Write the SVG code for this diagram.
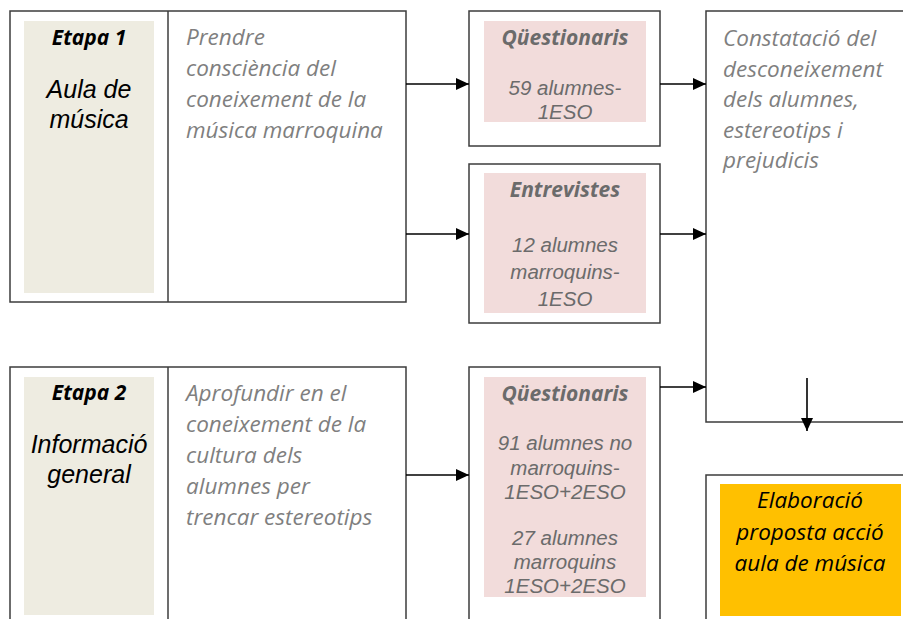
<svg xmlns="http://www.w3.org/2000/svg" width="903" height="619" viewBox="0 0 903 619">
<style>
.box{fill:#fff;stroke:#3c3c3c;stroke-width:1.5}
.beige{fill:#EEECE1}
.pink{fill:#F2DCDB}
.orange{fill:#FFC000}
.line{fill:none;stroke:#000;stroke-width:1.6}
.cal{font-family:"Open Sans","Noto Sans",sans-serif;font-style:italic}
.ari{font-family:"Liberation Sans",Arial,sans-serif;font-style:italic}
.grey{fill:#7F7F7F}
.dgrey{fill:#6b6b6b}
.stage{font-weight:bold;font-size:21px;fill:#000}
.title{font-size:25px;fill:#000}
.desc{font-size:22.5px}
.head{font-weight:bold;font-size:21px}
.body{font-size:20.5px}
</style>
<defs>
<marker id="ah" markerWidth="13" markerHeight="12" refX="13" refY="6" orient="auto" markerUnits="userSpaceOnUse">
<path d="M0,0 L13,6 L0,12 Z" fill="#000"/>
</marker>
</defs>
<rect width="903" height="619" fill="#fff"/>

<g id="etapa1">
<rect class="box" x="10" y="11" width="396" height="291"/>
<line x1="168" y1="11" x2="168" y2="302" stroke="#3c3c3c" stroke-width="1.5"/>
<rect class="beige" x="24" y="21" width="130" height="272"/>
<text class="cal stage" x="89" y="45" text-anchor="middle">Etapa 1</text>
<text class="ari title" x="89" y="98" text-anchor="middle">Aula de</text>
<text class="ari title" x="89" y="128" text-anchor="middle">música</text>
<g class="cal desc grey">
<text x="186" y="45">Prendre</text>
<text x="186" y="76">consciència del</text>
<text x="186" y="107">coneixement de la</text>
<text x="186" y="138">música marroquina</text>
</g>
</g>

<g id="questionaris1">
<rect class="box" x="469" y="11" width="191" height="135"/>
<rect class="pink" x="484" y="21" width="162" height="101"/>
<text class="cal head dgrey" x="565" y="45" text-anchor="middle">Qüestionaris</text>
<text class="ari body dgrey" x="565" y="95" text-anchor="middle">59 alumnes-</text>
<text class="ari body dgrey" x="565" y="119" text-anchor="middle">1ESO</text>
</g>

<g id="entrevistes">
<rect class="box" x="469" y="164" width="191" height="159"/>
<rect class="pink" x="484" y="173" width="162" height="140"/>
<text class="cal head dgrey" x="565" y="197" text-anchor="middle">Entrevistes</text>
<text class="ari body dgrey" x="565" y="252" text-anchor="middle">12 alumnes</text>
<text class="ari body dgrey" x="565" y="279" text-anchor="middle">marroquins-</text>
<text class="ari body dgrey" x="565" y="306" text-anchor="middle">1ESO</text>
</g>

<g id="constatacio">
<path class="box" d="M910,11 H706 V422 H910"/>
<g class="cal desc grey">
<text x="723" y="46">Constatació del</text>
<text x="723" y="77">desconeixement</text>
<text x="723" y="107">dels alumnes,</text>
<text x="723" y="138">estereotips i</text>
<text x="723" y="168">prejudicis</text>
</g>
</g>

<g id="etapa2">
<path class="box" d="M10,630 V367 H406 V630"/>
<line x1="168" y1="367" x2="168" y2="630" stroke="#3c3c3c" stroke-width="1.5"/>
<rect class="beige" x="24" y="377" width="130" height="238"/>
<text class="cal stage" x="89" y="400" text-anchor="middle">Etapa 2</text>
<text class="ari title" x="89" y="453" text-anchor="middle">Informació</text>
<text class="ari title" x="89" y="483" text-anchor="middle">general</text>
<g class="cal desc grey">
<text x="186" y="401">Aprofundir en el</text>
<text x="186" y="432">coneixement de la</text>
<text x="186" y="463">cultura dels</text>
<text x="186" y="494">alumnes per</text>
<text x="186" y="525">trencar estereotips</text>
</g>
</g>

<g id="questionaris2">
<path class="box" d="M469,630 V367 H660 V630"/>
<rect class="pink" x="484" y="377" width="162" height="220"/>
<text class="cal head dgrey" x="565" y="401" text-anchor="middle">Qüestionaris</text>
<text class="ari body dgrey" x="565" y="450" text-anchor="middle">91 alumnes no</text>
<text class="ari body dgrey" x="565" y="475" text-anchor="middle">marroquins-</text>
<text class="ari body dgrey" x="565" y="499" text-anchor="middle">1ESO+2ESO</text>
<text class="ari body dgrey" x="565" y="545" text-anchor="middle">27 alumnes</text>
<text class="ari body dgrey" x="565" y="569" text-anchor="middle">marroquins</text>
<text class="ari body dgrey" x="565" y="593" text-anchor="middle">1ESO+2ESO</text>
</g>

<g id="elaboracio">
<path class="box" d="M706,630 V475 H910"/>
<rect class="orange" x="720" y="484" width="181" height="132"/>
<g class="cal desc" fill="#000" text-anchor="middle">
<text x="810" y="508">Elaboració</text>
<text x="810" y="540">proposta acció</text>
<text x="810" y="571">aula de música</text>
</g>
</g>

<g id="connectors">
<line class="line" x1="406" y1="84" x2="469" y2="84" marker-end="url(#ah)"/>
<line class="line" x1="406" y1="234" x2="469" y2="234" marker-end="url(#ah)"/>
<line class="line" x1="660" y1="84" x2="706" y2="84" marker-end="url(#ah)"/>
<line class="line" x1="660" y1="234" x2="706" y2="234" marker-end="url(#ah)"/>
<line class="line" x1="406" y1="475" x2="469" y2="475" marker-end="url(#ah)"/>
<line class="line" x1="660" y1="387" x2="706" y2="387" marker-end="url(#ah)"/>
<line class="line" x1="807" y1="378" x2="807" y2="431" marker-end="url(#ah)"/>
</g>
</svg>
